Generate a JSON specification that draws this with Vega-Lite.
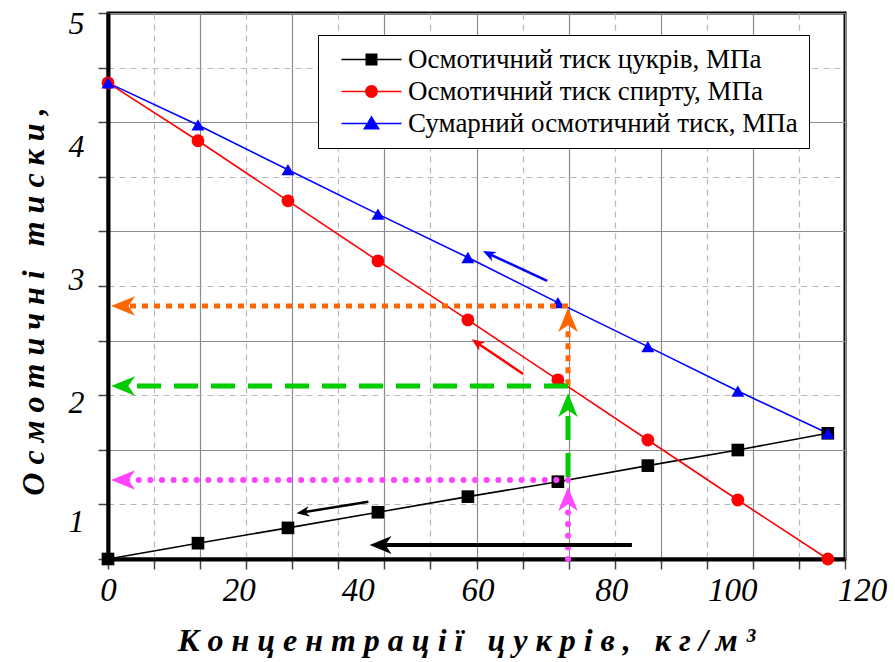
{
  "$schema": "https://vega.github.io/schema/vega-lite/v6.json",
  "width": 737,
  "height": 546,
  "autosize": "none",
  "padding": {"left": 108, "top": 13, "right": 50, "bottom": 103},
  "background": "white",
  "config": {"view": {"stroke": "black", "strokeWidth": 3}, "font": "Liberation Serif"},
  "resolve": {"scale": {"color": "independent", "shape": "independent", "size": "independent"}},
  "datasets": {
    "series": [
      {"x": 0, "y": 0, "s": "Осмотичний тиск цукрів, МПа"},
      {"x": 14.65, "y": 0.145, "s": "Осмотичний тиск цукрів, МПа"},
      {"x": 29.3, "y": 0.285, "s": "Осмотичний тиск цукрів, МПа"},
      {"x": 43.95, "y": 0.428, "s": "Осмотичний тиск цукрів, МПа"},
      {"x": 58.6, "y": 0.571, "s": "Осмотичний тиск цукрів, МПа"},
      {"x": 73.25, "y": 0.708, "s": "Осмотичний тиск цукрів, МПа"},
      {"x": 87.9, "y": 0.855, "s": "Осмотичний тиск цукрів, МПа"},
      {"x": 102.55, "y": 0.998, "s": "Осмотичний тиск цукрів, МПа"},
      {"x": 117.2, "y": 1.151, "s": "Осмотичний тиск цукрів, МПа"},
      {"x": 0, "y": 4.36, "s": "Осмотичний тиск спирту, МПа"},
      {"x": 14.65, "y": 3.83, "s": "Осмотичний тиск спирту, МПа"},
      {"x": 29.3, "y": 3.28, "s": "Осмотичний тиск спирту, МПа"},
      {"x": 43.95, "y": 2.73, "s": "Осмотичний тиск спирту, МПа"},
      {"x": 58.6, "y": 2.19, "s": "Осмотичний тиск спирту, МПа"},
      {"x": 73.25, "y": 1.64, "s": "Осмотичний тиск спирту, МПа"},
      {"x": 87.9, "y": 1.09, "s": "Осмотичний тиск спирту, МПа"},
      {"x": 102.55, "y": 0.54, "s": "Осмотичний тиск спирту, МПа"},
      {"x": 117.2, "y": 0.0, "s": "Осмотичний тиск спирту, МПа"},
      {"x": 0, "y": 4.36, "s": "Сумарний осмотичний тиск, МПа"},
      {"x": 14.65, "y": 3.975, "s": "Сумарний осмотичний тиск, МПа"},
      {"x": 29.3, "y": 3.565, "s": "Сумарний осмотичний тиск, МПа"},
      {"x": 43.95, "y": 3.158, "s": "Сумарний осмотичний тиск, МПа"},
      {"x": 58.6, "y": 2.761, "s": "Сумарний осмотичний тиск, МПа"},
      {"x": 73.25, "y": 2.348, "s": "Сумарний осмотичний тиск, МПа"},
      {"x": 87.9, "y": 1.945, "s": "Сумарний осмотичний тиск, МПа"},
      {"x": 102.55, "y": 1.538, "s": "Сумарний осмотичний тиск, МПа"},
      {"x": 117.2, "y": 1.151, "s": "Сумарний осмотичний тиск, МПа"}
    ],
    "guides": [
      {"g": "orange", "x": 74.9, "y": 2.317, "x2": 1.5, "y2": 2.317},
      {"g": "orange", "x": 74.9, "y": 1.59, "x2": 74.9, "y2": 2.2},
      {"g": "green", "x": 74.9, "y": 1.584, "x2": 1.5, "y2": 1.584},
      {"g": "green", "x": 74.9, "y": 0.75, "x2": 74.9, "y2": 1.42},
      {"g": "magenta", "x": 74.9, "y": 0.723, "x2": 1.5, "y2": 0.723},
      {"g": "magenta", "x": 74.9, "y": 0.0, "x2": 74.9, "y2": 0.58},
      {"g": "blue", "x": 71.5, "y": 2.546, "x2": 62.0, "y2": 2.795},
      {"g": "red", "x": 67.6, "y": 1.694, "x2": 60.0, "y2": 1.983},
      {"g": "blackS", "x": 42.4, "y": 0.525, "x2": 31.8, "y2": 0.428},
      {"g": "blackL", "x": 85.3, "y": 0.128, "x2": 44.0, "y2": 0.128}
    ],
    "heads": [
      {"g": "orange", "d": "left", "x": 0.5, "y": 2.317},
      {"g": "orange", "d": "up", "x": 74.9, "y": 2.299},
      {"g": "green", "d": "left", "x": 0.5, "y": 1.584},
      {"g": "green", "d": "up", "x": 74.9, "y": 1.52},
      {"g": "magenta", "d": "left", "x": 0.5, "y": 0.723},
      {"g": "magenta", "d": "up", "x": 74.9, "y": 0.659},
      {"g": "blue", "d": "diag", "x": 61.05, "y": 2.82},
      {"g": "red", "d": "diag", "x": 59.2, "y": 2.012},
      {"g": "blackS", "d": "diag", "x": 30.7, "y": 0.418},
      {"g": "blackL", "d": "left", "x": 42.6, "y": 0.128}
    ]
  },
  "encoding": {
    "x": {
      "field": "x", "type": "quantitative",
      "scale": {"domain": [0, 120], "nice": false, "zero": false},
      "axis": {
        "values": [0, 7.5, 15, 20, 22.5, 30, 37.5, 40, 45, 52.5, 60, 67.5, 75, 80, 82.5, 90, 97.5, 100, 105, 112.5, 120],
        "labelExpr": "datum.value % 20 == 0 ? format(datum.value, 'd') : ''",
        "labelOverlap": false, "labelFlush": false, "labelBound": false,
        "labelFont": "Liberation Serif", "labelFontStyle": "italic", "labelFontSize": 33, "labelColor": "black", "labelPadding": 5,
        "labelOffset": {"condition": [
          {"test": "datum.value == 20", "value": 8},
          {"test": "datum.value == 40", "value": 4},
          {"test": "datum.value == 60", "value": 1},
          {"test": "datum.value == 80", "value": 12},
          {"test": "datum.value == 100", "value": 10},
          {"test": "datum.value == 120", "value": 17}
        ], "value": 0},
        "tickSize": 10, "tickColor": "#444444", "tickWidth": 1.5,
        "tickOpacity": {"condition": {"test": "datum.value % 7.5 != 0", "value": 0}, "value": 1},
        "domainColor": "black", "domainWidth": 4,
        "grid": true, "gridWidth": 1.2,
        "gridOpacity": {"condition": {"test": "datum.value % 7.5 != 0", "value": 0}, "value": 1},
        "gridColor": {"condition": {"test": "datum.value % 15 != 0", "value": "#b8b8b8"}, "value": "#8c8c8c"},
        "gridDash": {"condition": {"test": "datum.value % 15 != 0", "value": [6, 5]}, "value": []},
        "title": "К о н ц е н т р а ц і ї \u00a0\u00a0ц у к р і в , \u00a0\u00a0к г / м ³",
        "titleFont": "Liberation Serif", "titleFontStyle": "italic", "titleFontWeight": "bold", "titleFontSize": 32, "titleColor": "black",
        "titleX": 358, "titleY": 91, "titleAlign": "center", "titleBaseline": "alphabetic"
      }
    },
    "y": {
      "field": "y", "type": "quantitative",
      "scale": {"domain": [0, 5], "nice": false},
      "axis": {
        "values": [0, 0.5, 1, 1.5, 2, 2.5, 3, 3.5, 4, 4.5, 5],
        "labelExpr": "datum.value % 1 == 0 && datum.value > 0 ? format(datum.value, 'd') : ''",
        "labelOverlap": false, "labelFlush": false, "labelBound": false,
        "labelFont": "Liberation Serif", "labelFontStyle": "italic", "labelFontSize": 32, "labelColor": "black", "labelPadding": 14,
        "labelOffset": {"condition": [
          {"test": "datum.value == 5", "value": 10},
          {"test": "datum.value == 4", "value": 24},
          {"test": "datum.value == 3", "value": 48},
          {"test": "datum.value == 2", "value": 62},
          {"test": "datum.value == 1", "value": 72}
        ], "value": 0},
        "tickSize": 10, "tickColor": "#444444", "tickWidth": 1.5,
        "domainColor": "black", "domainWidth": 4,
        "grid": true, "gridWidth": 1.2,
        "gridColor": {"condition": {"test": "datum.value % 1 != 0", "value": "#b8b8b8"}, "value": "#8c8c8c"},
        "gridDash": {"condition": {"test": "datum.value % 1 != 0", "value": [6, 5]}, "value": []},
        "title": "О с м о т и ч н і \u00a0\u00a0т и с к и ,",
        "titleFont": "Liberation Serif", "titleFontStyle": "italic", "titleFontWeight": "bold", "titleFontSize": 32, "titleColor": "black",
        "titleX": -75, "titleY": 288, "titleAngle": 270, "titleAlign": "center", "titleBaseline": "middle"
      }
    }
  },
  "layer": [
    {
      "data": {"name": "series"},
      "mark": {"type": "line", "strokeWidth": 1.6},
      "encoding": {
        "color": {"field": "s", "type": "nominal",
          "scale": {"domain": ["Осмотичний тиск цукрів, МПа", "Осмотичний тиск спирту, МПа", "Сумарний осмотичний тиск, МПа"], "range": ["#000000", "#FF0000", "#0000FF"]},
          "legend": null}
      }
    },
    {
      "data": {"name": "series"},
      "mark": {"type": "point", "filled": true, "opacity": 1, "strokeWidth": 0},
      "encoding": {
        "color": {"field": "s", "type": "nominal",
          "scale": {"domain": ["Осмотичний тиск цукрів, МПа", "Осмотичний тиск спирту, МПа", "Сумарний осмотичний тиск, МПа"], "range": ["#000000", "#FF0000", "#0000FF"]},
          "legend": null},
        "shape": {"field": "s", "type": "nominal",
          "scale": {"domain": ["Осмотичний тиск цукрів, МПа", "Осмотичний тиск спирту, МПа", "Сумарний осмотичний тиск, МПа"], "range": ["square", "circle", "triangle-up"]},
          "legend": null},
        "size": {"field": "s", "type": "nominal",
          "scale": {"domain": ["Осмотичний тиск цукрів, МПа", "Осмотичний тиск спирту, МПа", "Сумарний осмотичний тиск, МПа"], "range": [160, 170, 230]},
          "legend": null}
      }
    },
    {
      "data": {"name": "series"},
      "transform": [{"filter": "datum.x < 0"}],
      "mark": {"type": "point", "filled": true, "opacity": 1, "strokeWidth": 0},
      "encoding": {
        "color": {"field": "s", "type": "nominal",
          "scale": {"domain": ["Осмотичний тиск цукрів, МПа", "Осмотичний тиск спирту, МПа", "Сумарний осмотичний тиск, МПа"], "range": ["#000000", "#FF0000", "#0000FF"]},
          "legend": {
            "orient": "none", "legendX": 210, "legendY": 22, "title": null,
            "strokeColor": "black", "fillColor": "white", "padding": 11, "cornerRadius": 0,
            "labelFont": "Liberation Serif", "labelFontSize": 27, "labelColor": "black", "labelLimit": 700,
            "symbolSize": 400, "symbolOffset": 29, "labelOffset": 23, "rowPadding": 4, "symbolOpacity": 1
          }},
        "shape": {"field": "s", "type": "nominal",
          "scale": {"domain": ["Осмотичний тиск цукрів, МПа", "Осмотичний тиск спирту, МПа", "Сумарний осмотичний тиск, МПа"],
            "range": ["M-3,-0.08H3V0.08H-3ZM-0.6,-0.6H0.6V0.6H-0.6Z", "M-3,-0.08H3V0.08H-3ZM0.64,0A0.64,0.64 0 1,1 -0.64,0A0.64,0.64 0 1,1 0.64,0Z", "M-3,-0.08H3V0.08H-3ZM0,-0.8L0.85,0.6H-0.85Z"]},
          "legend": {
            "orient": "none", "legendX": 210, "legendY": 22, "title": null,
            "strokeColor": "black", "fillColor": "white", "padding": 11, "cornerRadius": 0,
            "labelFont": "Liberation Serif", "labelFontSize": 27, "labelColor": "black", "labelLimit": 700,
            "symbolSize": 400, "symbolOffset": 29, "labelOffset": 23, "rowPadding": 4, "symbolOpacity": 1
          }}
      }
    },
    {"data": {"name": "guides"}, "transform": [{"filter": "datum.g == 'orange'"}],
     "mark": {"type": "rule", "color": "#FF6600", "strokeWidth": 5, "strokeDash": [6, 6], "strokeCap": "butt"},
     "encoding": {"x2": {"field": "x2"}, "y2": {"field": "y2"}}},
    {"data": {"name": "guides"}, "transform": [{"filter": "datum.g == 'green'"}],
     "mark": {"type": "rule", "color": "#00CC00", "strokeWidth": 5, "strokeDash": [24, 13], "strokeCap": "butt"},
     "encoding": {"x2": {"field": "x2"}, "y2": {"field": "y2"}}},
    {"data": {"name": "guides"}, "transform": [{"filter": "datum.g == 'magenta'"}],
     "mark": {"type": "rule", "color": "#FF44FF", "strokeWidth": 6, "strokeDash": [0.1, 11.5], "strokeCap": "round"},
     "encoding": {"x2": {"field": "x2"}, "y2": {"field": "y2"}}},
    {"data": {"name": "guides"}, "transform": [{"filter": "datum.g == 'blue'"}],
     "mark": {"type": "rule", "color": "#0000FF", "strokeWidth": 2.5},
     "encoding": {"x2": {"field": "x2"}, "y2": {"field": "y2"}}},
    {"data": {"name": "guides"}, "transform": [{"filter": "datum.g == 'red'"}],
     "mark": {"type": "rule", "color": "#FF0000", "strokeWidth": 2.5},
     "encoding": {"x2": {"field": "x2"}, "y2": {"field": "y2"}}},
    {"data": {"name": "guides"}, "transform": [{"filter": "datum.g == 'blackS'"}],
     "mark": {"type": "rule", "color": "#000000", "strokeWidth": 2.5},
     "encoding": {"x2": {"field": "x2"}, "y2": {"field": "y2"}}},
    {"data": {"name": "guides"}, "transform": [{"filter": "datum.g == 'blackL'"}],
     "mark": {"type": "rule", "color": "#000000", "strokeWidth": 4},
     "encoding": {"x2": {"field": "x2"}, "y2": {"field": "y2"}}},
    {"data": {"name": "heads"}, "transform": [{"filter": "datum.g == 'orange' && datum.d == 'left'"}],
     "mark": {"type": "point", "shape": "M0,0L0.65,1.6L0,1.15L-0.65,1.6Z", "filled": true, "opacity": 1, "strokeWidth": 0, "color": "#FF6600", "size": 900, "angle": 270}},
    {"data": {"name": "heads"}, "transform": [{"filter": "datum.g == 'orange' && datum.d == 'up'"}],
     "mark": {"type": "point", "shape": "M0,0L0.65,1.6L0,1.15L-0.65,1.6Z", "filled": true, "opacity": 1, "strokeWidth": 0, "color": "#FF6600", "size": 900, "angle": 0}},
    {"data": {"name": "heads"}, "transform": [{"filter": "datum.g == 'green' && datum.d == 'left'"}],
     "mark": {"type": "point", "shape": "M0,0L0.65,1.6L0,1.15L-0.65,1.6Z", "filled": true, "opacity": 1, "strokeWidth": 0, "color": "#00CC00", "size": 900, "angle": 270}},
    {"data": {"name": "heads"}, "transform": [{"filter": "datum.g == 'green' && datum.d == 'up'"}],
     "mark": {"type": "point", "shape": "M0,0L0.65,1.6L0,1.15L-0.65,1.6Z", "filled": true, "opacity": 1, "strokeWidth": 0, "color": "#00CC00", "size": 900, "angle": 0}},
    {"data": {"name": "heads"}, "transform": [{"filter": "datum.g == 'magenta' && datum.d == 'left'"}],
     "mark": {"type": "point", "shape": "M0,0L0.65,1.6L0,1.15L-0.65,1.6Z", "filled": true, "opacity": 1, "strokeWidth": 0, "color": "#FF44FF", "size": 900, "angle": 270}},
    {"data": {"name": "heads"}, "transform": [{"filter": "datum.g == 'magenta' && datum.d == 'up'"}],
     "mark": {"type": "point", "shape": "M0,0L0.65,1.6L0,1.15L-0.65,1.6Z", "filled": true, "opacity": 1, "strokeWidth": 0, "color": "#FF44FF", "size": 900, "angle": 0}},
    {"data": {"name": "heads"}, "transform": [{"filter": "datum.g == 'blue'"}],
     "mark": {"type": "point", "shape": "M0,0L0.65,1.6L0,1.15L-0.65,1.6Z", "filled": true, "opacity": 1, "strokeWidth": 0, "color": "#0000FF", "size": 256, "angle": 296}},
    {"data": {"name": "heads"}, "transform": [{"filter": "datum.g == 'red'"}],
     "mark": {"type": "point", "shape": "M0,0L0.65,1.6L0,1.15L-0.65,1.6Z", "filled": true, "opacity": 1, "strokeWidth": 0, "color": "#FF0000", "size": 256, "angle": 304}},
    {"data": {"name": "heads"}, "transform": [{"filter": "datum.g == 'blackS'"}],
     "mark": {"type": "point", "shape": "M0,0L0.65,1.6L0,1.15L-0.65,1.6Z", "filled": true, "opacity": 1, "strokeWidth": 0, "color": "#000000", "size": 256, "angle": 261}},
    {"data": {"name": "heads"}, "transform": [{"filter": "datum.g == 'blackL'"}],
     "mark": {"type": "point", "shape": "M0,0L0.65,1.6L0,1.15L-0.65,1.6Z", "filled": true, "opacity": 1, "strokeWidth": 0, "color": "#000000", "size": 750, "angle": 270}}
  ]
}
